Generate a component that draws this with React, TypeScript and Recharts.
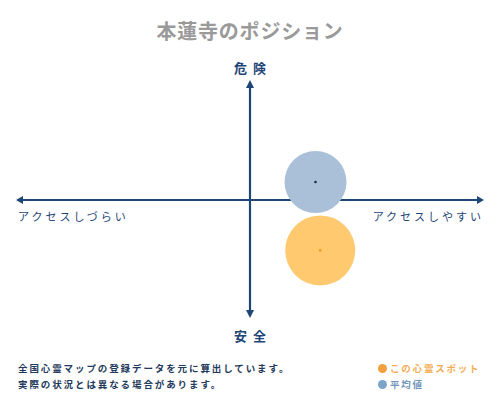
import { ScatterChart, Scatter, XAxis, YAxis, ReferenceLine } from 'recharts';

// position on the map: x = access (easy > 0), y = danger (dangerous > 0)
const seriesNames = ['この心霊スポット', '平均値'];
const spotPos = [3.0, -4.2];
const averagePos = [2.8, 1.5];
const axisLabels = ['危険', '安全', 'アクセスしづらい', 'アクセスしやすい'];
const notes = ['全国心霊マップの登録データを元に算出しています。', '実際の状況とは異なる場合があります。'];

const spotData = [{ x: spotPos[0], y: spotPos[1] }];
const averageData = [{ x: averagePos[0], y: averagePos[1] }];

const NAVY = '#1d4576';
const FONT = '"Noto Sans CJK JP", sans-serif';

const bubble = (r: number, fill: string, dot: string) => (props: any) => (
  <g>
    <circle cx={props.cx} cy={props.cy} r={r} fill={fill} />
    <circle cx={props.cx} cy={props.cy} r={1.3} fill={dot} />
  </g>
);

const hArrow = (props: any) => {
  const { x1, x2, y1 } = props;
  return (
    <g>
      <line x1={x1 + 3} y1={y1} x2={x2 - 3} y2={y1} stroke={NAVY} strokeWidth={2.2} />
      <polygon points={`${x1},${y1} ${x1 + 7},${y1 - 4} ${x1 + 7},${y1 + 4}`} fill={NAVY} />
      <polygon points={`${x2},${y1} ${x2 - 7},${y1 - 4} ${x2 - 7},${y1 + 4}`} fill={NAVY} />
    </g>
  );
};

const vArrow = (props: any) => {
  const { x1, y1, y2 } = props;
  const top = Math.min(y1, y2);
  const bottom = Math.max(y1, y2) - 2;
  return (
    <g>
      <line x1={x1} y1={top + 3} x2={x1} y2={bottom - 3} stroke={NAVY} strokeWidth={2.2} />
      <polygon points={`${x1},${top} ${x1 - 4},${top + 8} ${x1 + 4},${top + 8}`} fill={NAVY} />
      <polygon points={`${x1},${bottom} ${x1 - 4},${bottom - 8} ${x1 + 4},${bottom - 8}`} fill={NAVY} />
    </g>
  );
};

const abs = (style: React.CSSProperties): React.CSSProperties => ({ position: 'absolute', fontFamily: FONT, ...style });

export default function App() {
  return (
    <div style={{ position: 'absolute', left: 0, top: 0, width: 500, height: 400, background: '#fff', overflow: 'hidden' }}>
      <div style={abs({ top: 16, left: 0, width: 500, textAlign: 'center', fontSize: 20, fontWeight: 700, color: '#9a9a9a', letterSpacing: 0.8 })}>
        本蓮寺のポジション
      </div>
      <ScatterChart width={500} height={400} margin={{ top: 80, right: 16, bottom: 80, left: 16 }}>
        <XAxis type="number" dataKey="x" domain={[-10, 10]} hide />
        <YAxis type="number" dataKey="y" domain={[-10, 10]} hide />
        <Scatter name={seriesNames[1]} data={averageData} shape={bubble(31, '#aac0d9', '#1a2a40')} isAnimationActive={false} />
        <Scatter name={seriesNames[0]} data={spotData} shape={bubble(35, '#fec96f', '#f29a1e')} isAnimationActive={false} />
        <ReferenceLine y={0} shape={hArrow} ifOverflow="visible" />
        <ReferenceLine x={0} shape={vArrow} ifOverflow="visible" />
      </ScatterChart>
      <div style={abs({ top: 58, left: 0, width: 500, textAlign: 'center', fontSize: 13, fontWeight: 700, color: NAVY, letterSpacing: 6, paddingLeft: 6, boxSizing: 'border-box' })}>
        {axisLabels[0]}
      </div>
      <div style={abs({ top: 326, left: 0, width: 500, textAlign: 'center', fontSize: 13, fontWeight: 700, color: NAVY, letterSpacing: 6, paddingLeft: 6, boxSizing: 'border-box' })}>
        {axisLabels[1]}
      </div>
      <div style={abs({ top: 208, left: 18, fontSize: 11, color: NAVY, letterSpacing: 3, whiteSpace: 'nowrap' })}>
        {axisLabels[2]}
      </div>
      <div style={abs({ top: 208, right: 16, fontSize: 11, color: NAVY, letterSpacing: 3, whiteSpace: 'nowrap' })}>
        {axisLabels[3]}
      </div>
      <div style={abs({ top: 360, left: 18, fontSize: 9.5, fontWeight: 700, color: '#1f3a5c', letterSpacing: 1.9, lineHeight: '16px', whiteSpace: 'nowrap' })}>
        <div>{notes[0]}</div>
        <div>{notes[1]}</div>
      </div>
      <div style={abs({ top: 360, left: 378, fontSize: 9.5, fontWeight: 700, letterSpacing: 1.8, lineHeight: '16px', whiteSpace: 'nowrap' })}>
        <div style={{ color: '#f4ad55', display: 'flex', alignItems: 'center' }}>
          <span style={{ display: 'inline-block', width: 9, height: 9, borderRadius: '50%', background: '#f0a03c', marginRight: 3 }} />
          {seriesNames[0]}
        </div>
        <div style={{ color: '#7395bb', display: 'flex', alignItems: 'center' }}>
          <span style={{ display: 'inline-block', width: 9, height: 9, borderRadius: '50%', background: '#7ea3c8', marginRight: 3 }} />
          {seriesNames[1]}
        </div>
      </div>
    </div>
  );
}
